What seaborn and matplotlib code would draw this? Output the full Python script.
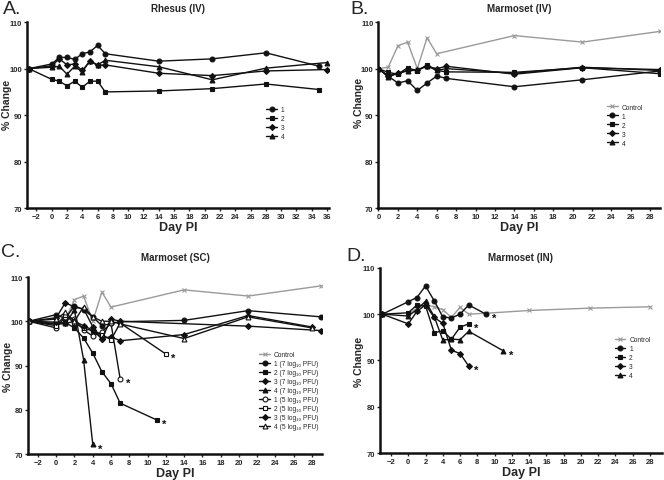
import numpy as np
import pandas as pd
import matplotlib
matplotlib.use("Agg")
import matplotlib.pyplot as plt
import seaborn as sns

# ---- Panel A: Rhesus (IV) ----
a_days_35 = [-3, 0, 1, 2, 3, 4, 5, 6, 7, 14, 21, 28, 35]
a_days_36 = [-3, 0, 1, 2, 3, 4, 5, 6, 7, 14, 21, 28, 36]
a_s1 = [100, 101.0, 102.4, 102.4, 102.0, 103.2, 103.6, 105.0, 103.2, 101.6, 102.1, 103.4, 100.5]
a_s2 = [100, 97.7, 97.3, 96.3, 97.3, 96.0, 97.3, 97.3, 95.0, 95.2, 95.7, 96.7, 95.5]
a_s3 = [100, 100.6, 102.1, 100.8, 101.0, 99.6, 101.6, 100.7, 100.8, 99.0, 98.5, 99.5, 99.8]
a_s4 = [100, 100.3, 100.5, 98.8, 100.5, 99.3, 101.7, 100.8, 101.8, 100.4, 97.6, 100.1, 101.3]

# ---- Panel B: Marmoset (IV) ----
ctrl_days = [0, 1, 2, 3, 4, 5, 6, 14, 21, 29]
ctrl_vals = [100, 100.3, 104.9, 105.7, 100.0, 106.6, 103.2, 107.1, 105.7, 108.0]
b_days = [0, 1, 2, 3, 4, 5, 6, 7, 14, 21, 29]
b_s1 = [100, 98.4, 96.9, 97.4, 95.3, 96.9, 98.4, 97.9, 96.1, 97.6, 99.5]
b_s2 = [100, 99.2, 98.8, 100.2, 99.5, 100.8, 99.6, 99.3, 99.2, 100.2, 98.9]
b_s3 = [100, 98.5, 99.0, 99.6, 99.7, 100.5, 100.0, 100.5, 98.8, 100.2, 99.8]
b_s4 = [100, 98.2, 99.0, 99.5, 99.7, 100.6, 99.6, 100.0, 99.0, 100.3, 99.6]

# ---- Panel C: Marmoset (SC) ----
c1_7_days = [-3, 0, 1, 2, 3, 4, 5, 6, 7, 14, 21, 29]
c1_7 = [100, 101.5, 100.6, 103.5, 102.6, 101.0, 99.0, 99.5, 99.9, 100.2, 102.4, 101.0]
c2_7_days = [-3, 0, 1, 2, 3, 4, 5, 6, 7, 11]
c2_7 = [100, 99.5, 99.7, 98.5, 96.2, 92.8, 88.6, 85.9, 81.5, 77.7]
c3_7_days = [-3, 0, 1, 2, 3, 4, 5, 6, 7, 14, 21, 28]
c3_7 = [100, 100.8, 104.2, 103.2, 102.8, 98.8, 96.1, 96.5, 95.6, 97.0, 101.3, 98.7]
c4_7_days = [-3, 0, 1, 2, 3, 4]
c4_7 = [100, 99.3, 99.5, 102.5, 91.3, 72.2]
c1_5_days = [-3, 0, 1, 2, 3, 4, 5, 6, 7]
c1_5 = [100, 98.5, 101.0, 100.5, 98.0, 96.7, 97.6, 99.5, 87.0]
c2_5_days = [-3, 0, 1, 2, 3, 4, 5, 6, 7, 12]
c2_5 = [100, 99.0, 101.5, 99.5, 98.5, 97.8, 97.0, 95.8, 99.6, 92.6]
c3_5_days = [-3, 0, 1, 2, 3, 4, 5, 6, 7, 21, 29]
c3_5 = [100, 99.8, 99.5, 100.0, 99.0, 98.0, 96.0, 100.5, 100.0, 98.9, 97.9]
c4_5_days = [-3, 0, 1, 2, 3, 4, 5, 6, 7, 14, 21, 28]
c4_5 = [100, 100.5, 102.0, 100.0, 103.3, 101.0, 100.0, 100.0, 99.4, 96.1, 101.0, 98.5]

# ---- Panel D: Marmoset (IN) ----
d_ctrl_days = [0, 1, 2, 3, 4, 5, 6, 7, 9, 14, 21, 28]
d_ctrl = [100, 101.3, 102.0, 101.6, 101.0, 99.3, 101.5, 100.0, 100.2, 100.8, 101.3, 101.6]
d1_days = [-3, 0, 1, 2, 3, 4, 5, 6, 7, 9]
d1 = [100, 102.7, 103.6, 106.1, 102.9, 99.4, 99.2, 100.0, 102.0, 100.0]
d2_days = [-3, 0, 1, 2, 3, 4, 5, 6, 7]
d2 = [100, 100.3, 102.0, 101.8, 96.0, 96.4, 94.6, 97.2, 97.9]
d3_days = [-3, 0, 1, 2, 3, 4, 5, 6, 7]
d3 = [100, 97.9, 100.6, 102.0, 99.3, 98.0, 92.2, 91.5, 88.8]
d4_days = [-3, 0, 1, 2, 3, 4, 5, 6, 7, 11]
d4 = [100, 99.6, 101.0, 102.8, 99.5, 94.4, 94.6, 94.5, 96.3, 92.1]

sns.set_style("ticks")
plt.rcParams["font.family"] = ["Liberation Sans", "DejaVu Sans"]

BLACK = "#111111"
GREY = "#9a9a9a"


def draw(ax, days, vals, label, marker, color=BLACK, open_marker=False, ms=3.5, star=False):
    sns.lineplot(x=days, y=vals, ax=ax, color=color, marker=marker, markersize=ms,
                 markeredgecolor=color, markerfacecolor="white" if open_marker else color,
                 markeredgewidth=0.8, linewidth=1.0, label=label, sort=False,
                 estimator=None, errorbar=None)
    if star:
        ax.annotate("*", (days[-1], vals[-1]), xytext=(4, -3), textcoords="offset points",
                    fontsize=8, fontweight="bold", color=BLACK, va="center", ha="left")


def style(ax, xlim, xticks, title, title_pad, legend_pos, ylabel_y=0.5):
    ax.set_xlim(*xlim)
    ax.set_ylim(70, 110)
    ax.set_xticks(xticks)
    ax.set_yticks([70, 80, 90, 100, 110])
    ax.set_xlabel("Day PI", fontsize=9, fontweight="bold", labelpad=1)
    ax.set_ylabel("% Change", fontsize=7.5, fontweight="bold", labelpad=1)
    ax.yaxis.set_label_coords(-0.052 if ax is not axD else -0.055, ylabel_y)
    ax.set_title(title, fontsize=7, fontweight="bold", pad=title_pad)
    sns.despine(ax=ax)
    for s in ["left", "bottom"]:
        ax.spines[s].set_linewidth(1.8)
        ax.spines[s].set_color(BLACK)
    ax.tick_params(axis="both", labelsize=5.5, width=1.0, length=2.5, pad=1)
    for t in ax.get_xticklabels() + ax.get_yticklabels():
        t.set_fontweight("bold")
    leg = ax.legend(loc="upper left", bbox_to_anchor=legend_pos, frameon=False,
                    fontsize=4.8, handlelength=1.6, handletextpad=0.6, labelspacing=0.3,
                    borderpad=0)
    for line in leg.get_lines():
        line.set_linewidth(1.0)


fig = plt.figure(figsize=(6.64, 4.81), dpi=100)
axA = fig.add_axes([0.041, 0.565, 0.455, 0.387])
axB = fig.add_axes([0.570, 0.565, 0.424, 0.387])
axC = fig.add_axes([0.042, 0.054, 0.443, 0.368])
axD = fig.add_axes([0.572, 0.056, 0.425, 0.385])

# A
draw(axA, a_days_35, a_s1, "1", "o")
draw(axA, a_days_35, a_s2, "2", "s")
draw(axA, a_days_36, a_s3, "3", "D", ms=3)
draw(axA, a_days_36, a_s4, "4", "^")
style(axA, (-3.2, 36.3), range(-2, 37, 2), "Rhesus (IV)", 8, (0.78, 0.565), ylabel_y=0.56)

# B
draw(axB, ctrl_days, ctrl_vals, "Control", "x", color=GREY, ms=3)
draw(axB, b_days, b_s1, "1", "o")
draw(axB, b_days, b_s2, "2", "s")
draw(axB, b_days, b_s3, "3", "D", ms=3)
draw(axB, b_days, b_s4, "4", "^")
style(axB, (0, 29), range(0, 29, 2), "Marmoset (IV)", 8, (0.8, 0.58), ylabel_y=0.57)

# C
pfu7 = " (7 log\u2081\u2080 PFU)"
pfu5 = " (5 log\u2081\u2080 PFU)"
draw(axC, ctrl_days, ctrl_vals, "Control", "x", color=GREY, ms=3)
draw(axC, c1_7_days, c1_7, "1" + pfu7, "o")
draw(axC, c2_7_days, c2_7, "2" + pfu7, "s", star=True)
draw(axC, c3_7_days, c3_7, "3" + pfu7, "D", ms=3)
draw(axC, c4_7_days, c4_7, "4" + pfu7, "^", star=True)
draw(axC, c1_5_days, c1_5, "1" + pfu5, "o", open_marker=True, star=True)
draw(axC, c2_5_days, c2_5, "2" + pfu5, "s", open_marker=True, star=True)
draw(axC, c3_5_days, c3_5, "3" + pfu5, "D", ms=3)
draw(axC, c4_5_days, c4_5, "4" + pfu5, "^", open_marker=True)
style(axC, (-3.1, 29.1), range(-2, 29, 2), "Marmoset (SC)", 12, (0.775, 0.6))

# D
draw(axD, d_ctrl_days, d_ctrl, "Control", "x", color=GREY, ms=3)
draw(axD, d1_days, d1, "1", "o", star=True)
draw(axD, d2_days, d2, "2", "s", star=True)
draw(axD, d3_days, d3, "3", "D", ms=3, star=True)
draw(axD, d4_days, d4, "4", "^", star=True)
style(axD, (-3.3, 29.4), range(-2, 29, 2), "Marmoset (IN)", 6, (0.82, 0.65))

# panel letters
for letter, x, y in [("A.", 0.004, 0.997), ("B.", 0.528, 0.997),
                     ("C.", 0.002, 0.493), ("D.", 0.522, 0.485)]:
    fig.text(x, y, letter, fontsize=14, ha="left", va="top")

fig.savefig("out.png", dpi=100)
